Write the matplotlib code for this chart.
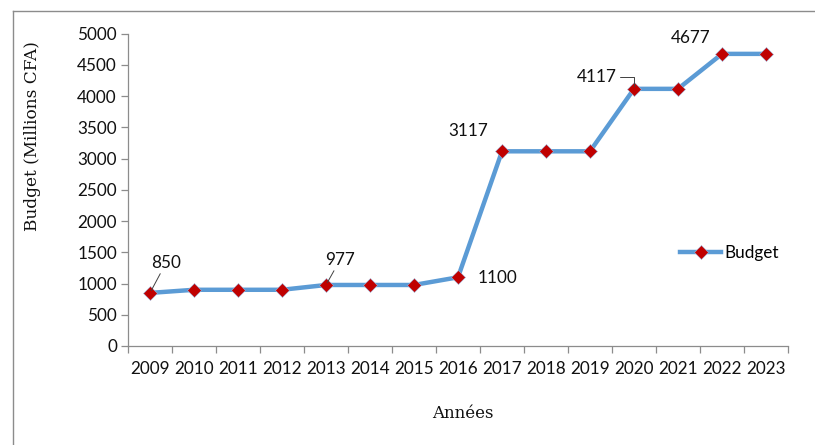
import matplotlib.pyplot as plt
from matplotlib.lines import Line2D
import numpy as np

# Data
years = ['2009', '2010', '2011', '2012', '2013', '2014', '2015', '2016',
         '2017', '2018', '2019', '2020', '2021', '2022', '2023']
budget = [850, 900, 900, 900, 977, 977, 977, 1100,
          3117, 3117, 3117, 4117, 4117, 4677, 4677]

# Which points carry a data label
labelled = ['2009', '2013', '2016', '2017', '2020', '2022']

W, H = 815, 445
fig = plt.figure(figsize=(W / 100, H / 100), dpi=100)
ax = fig.add_axes([128 / W, 1 - 346 / H, (788 - 128) / W, (346 - 33.7) / H])

tick_font = 'Lato'
title_font = 'DejaVu Serif'
fs = 12.3

x = np.arange(len(years))
ax.plot(x, budget, color='#5B9BD5', lw=3.2, marker='D', ms=7.5,
        mfc='#C00000', mec='#9DB7DD', mew=0.4, label='Budget', zorder=3,
        solid_joinstyle='round')

ax.set_xlim(-0.5, len(years) - 0.5)
ax.set_ylim(0, 5000)
ax.set_yticks(np.arange(0, 5001, 500))
ax.set_xticks(x)
ax.set_xticklabels(years)
ax.set_xticks(np.arange(-0.5, len(years), 1), minor=True)

for s in ['top', 'right']:
    ax.spines[s].set_visible(False)
for s in ['left', 'bottom']:
    ax.spines[s].set_color('#8C8C8C')
    ax.spines[s].set_linewidth(0.9)

ax.tick_params(axis='x', which='major', length=0, pad=11)
ax.tick_params(axis='x', which='minor', length=5, color='#8C8C8C', width=0.9)
ax.tick_params(axis='y', length=5, color='#8C8C8C', width=0.9, pad=3)
for lab in ax.get_xticklabels() + ax.get_yticklabels():
    lab.set_fontfamily(tick_font)
    lab.set_fontsize(fs)
    lab.set_color('#111111')

# Axis titles
fig.text(463 / W, 1 - 414 / H, 'Années', family=title_font, fontsize=12,
         ha='center', va='center', color='#111111')
fig.text(33 / W, 1 - 136 / H, 'Budget (Millions CFA)', family=title_font,
         fontsize=12.2, ha='center', va='center', rotation=90, color='#111111')

# Data labels (offsets in pixels from the point)
offsets = {
    '2009': (16, 30, True, None),
    '2013': (14, 25, True, None),
    '2016': (39, -1, False, None),
    '2017': (-34, 20, False, None),
    '2020': (-37, 12, True, 'angle,angleA=0,angleB=90,rad=0'),
    '2022': (-31, 15.5, False, None),
}
for yr in labelled:
    i = years.index(yr)
    dx, dy, leader, conn = offsets[yr]
    props = None
    if leader:
        props = dict(arrowstyle='-', color='#404040', lw=0.7,
                     shrinkA=0, shrinkB=2)
        if conn:
            props['connectionstyle'] = conn
    ax.annotate(str(budget[i]), (x[i], budget[i]), xytext=(dx, dy),
                textcoords='offset pixels', ha='center', va='center',
                family=tick_font, fontsize=fs, color='#111111',
                arrowprops=props, zorder=4)

# Legend
leg = ax.legend(loc='center left', bbox_to_anchor=((680 - 128) / (788 - 128), (346 - 253) / (346 - 33.7)),
                frameon=False, handlelength=2.4, handletextpad=0.2,
                borderaxespad=0, borderpad=0, prop={'family': tick_font, 'size': fs})

# Chart border (left and top edges visible in the crop)
fig.add_artist(Line2D([13 / W, 13 / W], [0, 1 - 11 / H], color='#8C8C8C', lw=1))
fig.add_artist(Line2D([13 / W, 1], [1 - 11 / H, 1 - 11 / H], color='#8C8C8C', lw=1))

fig.savefig('out.png', dpi=100)
